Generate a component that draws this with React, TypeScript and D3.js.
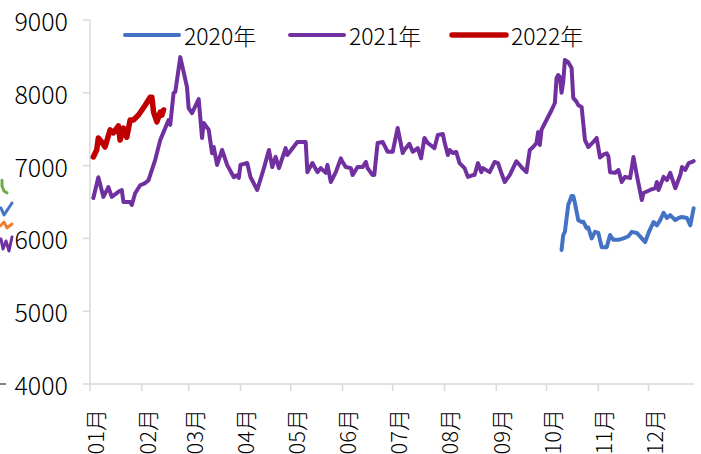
import React from "react";
import * as d3 from "d3";

// ---- data (month-day, value) ----
const s2021: [string, number][] = [
  ["01-03", 6555], ["01-06", 6840], ["01-09", 6570], ["01-12", 6705], ["01-14", 6570],
  ["01-18", 6640], ["01-20", 6665], ["01-21", 6500], ["01-25", 6500], ["01-26", 6460],
  ["01-28", 6620], ["01-31", 6730], ["02-03", 6760], ["02-05", 6800], ["02-09", 7080],
  ["02-12", 7350], ["02-17", 7625], ["02-18", 7560], ["02-20", 8000], ["02-21", 8010],
  ["02-24", 8490], ["02-28", 8080], ["03-01", 7790], ["03-03", 7720], ["03-07", 7915],
  ["03-09", 7380], ["03-10", 7585], ["03-13", 7490], ["03-15", 7170], ["03-16", 7255],
  ["03-18", 7010], ["03-21", 7215], ["03-24", 7010], ["03-28", 6840], ["03-30", 6870],
  ["03-31", 6830], ["04-01", 7010], ["04-05", 7035], ["04-07", 6840], ["04-11", 6665],
  ["04-15", 6965], ["04-18", 7215], ["04-20", 6980], ["04-22", 7120], ["04-24", 6965],
  ["04-28", 7240], ["04-29", 7145], ["05-05", 7325], ["05-08", 7325], ["05-10", 7325],
  ["05-11", 6910], ["05-14", 7035], ["05-17", 6910], ["05-19", 6965], ["05-22", 6900],
  ["05-23", 7010], ["05-25", 6775], ["05-28", 6910], ["05-31", 7100], ["06-01", 7050],
  ["06-03", 6980], ["06-06", 6965], ["06-07", 6870], ["06-10", 6980], ["06-13", 6980],
  ["06-15", 7050], ["06-16", 6965], ["06-19", 6870], ["06-20", 6870], ["06-22", 7310],
  ["06-25", 7325], ["06-28", 7190], ["07-01", 7190], ["07-04", 7516], ["07-07", 7173],
  ["07-08", 7214], ["07-11", 7300], ["07-13", 7190], ["07-16", 7240], ["07-18", 7100],
  ["07-20", 7380], ["07-22", 7310], ["07-26", 7240], ["07-28", 7420], ["07-31", 7434],
  ["08-01", 7325], ["08-03", 7145], ["08-04", 7214], ["08-06", 7173], ["08-08", 7187],
  ["08-10", 7035], ["08-13", 6965], ["08-15", 6845], ["08-18", 6870], ["08-19", 6870],
  ["08-21", 7035], ["08-23", 6910], ["08-24", 6965], ["08-28", 6910], ["08-31", 7050],
  ["09-02", 7035], ["09-04", 6900], ["09-06", 6775], ["09-09", 6870], ["09-13", 7060],
  ["09-16", 6980], ["09-19", 6910], ["09-21", 7214], ["09-23", 7255], ["09-25", 7310],
  ["09-26", 7460], ["09-27", 7283], ["09-28", 7490], ["10-01", 7626], ["10-04", 7760],
  ["10-06", 7860], ["10-07", 8200], ["10-08", 8245], ["10-09", 8217], ["10-10", 8000],
  ["10-11", 8150], ["10-12", 8450], ["10-14", 8420], ["10-16", 8340], ["10-17", 7930],
  ["10-19", 7875], ["10-20", 7830], ["10-22", 7805], ["10-24", 7350], ["10-26", 7255],
  ["10-29", 7325], ["10-31", 7380], ["11-02", 7110], ["11-04", 7150], ["11-06", 7170],
  ["11-07", 7130], ["11-08", 6910], ["11-11", 6900], ["11-13", 6940], ["11-15", 6775],
  ["11-17", 6845], ["11-20", 6830], ["11-22", 7118], ["11-24", 6870], ["11-27", 6527],
  ["11-28", 6624], ["12-02", 6665], ["12-05", 6690], ["12-06", 6775], ["12-07", 6665],
  ["12-10", 6845], ["12-12", 6800], ["12-14", 6900], ["12-17", 6690], ["12-20", 6870],
  ["12-21", 6980], ["12-23", 6940], ["12-25", 7035], ["12-27", 7050], ["12-28", 7063],
];

const s2022: [string, number][] = [
  ["01-03", 7118], ["01-05", 7214], ["01-06", 7380], ["01-08", 7325], ["01-10", 7255],
  ["01-13", 7490], ["01-15", 7450], ["01-18", 7545], ["01-19", 7350], ["01-21", 7516],
  ["01-23", 7390], ["01-25", 7626], ["01-27", 7626], ["01-30", 7695], ["02-03", 7830],
  ["02-06", 7940], ["02-07", 7940], ["02-08", 7736], ["02-10", 7600], ["02-12", 7736],
  ["02-13", 7695], ["02-14", 7764],
];

const s2020: [string, number][] = [
  ["10-10", 5840], ["10-11", 6046], ["10-12", 6090], ["10-14", 6460], ["10-16", 6582],
  ["10-17", 6582], ["10-18", 6486], ["10-20", 6250], ["10-22", 6225], ["10-23", 6230],
  ["10-25", 6140], ["10-26", 6150], ["10-28", 6000], ["10-30", 6090], ["11-01", 6075],
  ["11-03", 5880], ["11-06", 5880], ["11-08", 6046], ["11-10", 5980], ["11-13", 5980],
  ["11-16", 6000], ["11-19", 6030], ["11-21", 6090], ["11-24", 6075], ["11-27", 6000],
  ["11-29", 5950], ["12-01", 6075], ["12-04", 6225], ["12-06", 6180], ["12-08", 6250],
  ["12-10", 6350], ["12-12", 6280], ["12-14", 6320], ["12-17", 6250], ["12-19", 6280],
  ["12-21", 6295], ["12-24", 6280], ["12-26", 6180], ["12-28", 6415],
];

// fragments of a neighbouring chart visible at the left edge: [step, value]
const edgeGreen: [number, number][] = [[1, 6800], [1, 6720], [2, 6650], [3.5, 6625]];
const edgeBlue: [number, number][] = [[0.5, 6418], [2, 6321], [6, 6486]];
const edgeOrange: [number, number][] = [[0, 6170], [2, 6225], [3.5, 6145], [6, 6198]];
const edgePurple: [number, number][] = [[0.5, 5992], [1.5, 5854], [3, 5964], [4.5, 5827], [6, 6019]];

const yTicks = [4000, 5000, 6000, 7000, 8000, 9000];
const legendNames = ["2020年", "2021年", "2022年"];
const colors = ["#4472C4", "#7030A0", "#C00000"];

const W = 701, H = 454;
const FONT = "'Noto Sans CJK SC', 'Noto Sans', sans-serif";

export default function App() {
  const parse = d3.timeParse("%Y-%m-%d");
  const toDate = (md: string) => parse("2021-" + md) as Date;
  const x = d3.scaleTime()
    .domain([new Date(2021, 0, 1), new Date(2021, 11, 28, 5)])
    .range([90, 694]);
  const y = d3.scaleLinear().domain([4000, 9000]).range([384, 20]);
  const line = d3.line<[string, number]>()
    .x((d) => x(toDate(d[0])))
    .y((d) => y(d[1]))
    .curve(d3.curveLinear);

  const edgeX = d3.scaleLinear().domain([0, 6]).range([0, 12]);
  const edgeLine = d3.line<[number, number]>().x((d) => edgeX(d[0])).y((d) => y(d[1]));

  const months = d3.timeMonth.range(new Date(2021, 0, 1), new Date(2021, 11, 2));
  const fmt = d3.timeFormat("%m月");

  const series = [s2020, s2021, s2022];
  const legendX = [125, 290, 452];

  return (
    <svg width={W} height={H} style={{ position: "absolute", left: 0, top: 0, background: "#fff" }}
      fontFamily={FONT}>
      {/* edge fragments */}
      <path d={edgeLine(edgeGreen) || ""} fill="none" stroke="#70AD47" strokeWidth={3} strokeLinejoin="round" strokeLinecap="round" />
      <path d={edgeLine(edgeBlue) || ""} fill="none" stroke="#4472C4" strokeWidth={3} strokeLinejoin="round" strokeLinecap="round" />
      <path d={edgeLine(edgeOrange) || ""} fill="none" stroke="#ED7D31" strokeWidth={3} strokeLinejoin="round" strokeLinecap="round" />
      <path d={edgeLine(edgePurple) || ""} fill="none" stroke="#7030A0" strokeWidth={3} strokeLinejoin="round" strokeLinecap="round" />
      <line x1={edgeX(0)} x2={edgeX(3)} y1={y(4000)} y2={y(4000)} stroke="#595959" strokeWidth={1.5} />

      {/* y axis */}
      <line x1={90} x2={90} y1={y(9000)} y2={y(4000)} stroke="#d9d9d9" strokeWidth={1.5} />
      {yTicks.map((t) => (
        <g key={t}>
          <line x1={83} x2={90} y1={y(t)} y2={y(t)} stroke="#d9d9d9" strokeWidth={1.5} />
          <text x={68} y={y(t)} textAnchor="end" dominantBaseline="central" fontSize={25} fill="#000" fontWeight={300}>
            {t}
          </text>
        </g>
      ))}

      {/* x axis */}
      <line x1={90} x2={694} y1={y(4000)} y2={y(4000)} stroke="#d9d9d9" strokeWidth={1.5} />
      {months.map((m) => (
        <g key={m.getTime()}>
          <line x1={x(m)} x2={x(m)} y1={y(4000)} y2={y(4000) + 7} stroke="#d9d9d9" strokeWidth={1.5} />
          <text transform={`translate(${x(m) + 4},${409}) rotate(-90)`} textAnchor="end"
            dominantBaseline="central" fontSize={22} fill="#000" fontWeight={300}>
            {fmt(m)}
          </text>
        </g>
      ))}

      {/* series */}
      {series.map((s, i) => (
        <path key={i} d={line(s) || ""} fill="none" stroke={colors[i]}
          strokeWidth={i === 2 ? 5.5 : 4} strokeLinejoin="round" strokeLinecap="round" />
      ))}

      {/* legend */}
      {legendNames.map((n, i) => (
        <g key={n}>
          <line x1={legendX[i]} x2={legendX[i] + 54} y1={35} y2={35} stroke={colors[i]} strokeWidth={i === 2 ? 5.5 : 4} strokeLinecap="round" />
          <text x={legendX[i] + 59} y={35} dominantBaseline="central" fontSize={23} fill="#000" fontWeight={300}>
            {n}
          </text>
        </g>
      ))}
    </svg>
  );
}
